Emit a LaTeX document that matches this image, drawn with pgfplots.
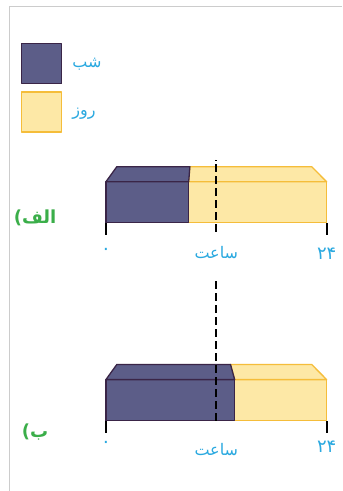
\documentclass[border=0pt]{standalone}
\usepackage{fontspec}
\usepackage{pgfplots}
\pgfplotsset{compat=1.18}
\TeXXeTstate=1
\newfontfamily\arabicfont[Script=Arabic]{DejaVu Sans}
\newcommand{\fa}[1]{{\arabicfont\beginR #1\endR}}

\definecolor{nightfill}{HTML}{5C5D88}
\definecolor{nightedge}{HTML}{3A2547}
\definecolor{dayfill}{HTML}{FDE8A6}
\definecolor{dayedge}{HTML}{F5BD3A}
\definecolor{labelblue}{HTML}{2AA9E0}
\definecolor{panelgreen}{HTML}{3AAE49}
\definecolor{framegray}{HTML}{CCCCCC}

\pgfplotsset{
  nightbox/.style={fill=nightfill, draw=nightedge, line width=1.3bp, line join=round},
  daybox/.style={fill=dayfill, draw=dayedge, line width=1.3bp, line join=round},
  noon/.style={black, line width=2.4bp, dash pattern=on 8bp off 4bp},
  panel/.style={
    scale only axis, width=221bp, xmin=0, xmax=24, ymin=0,
    clip=false, axis y line=none, axis x line*=bottom,
    x axis line style={draw=none},
    xtick={0,24}, xticklabels={\fa{۰},\fa{۲۴}},
    xtick align=outside, major tick length=12bp,
    tick style={draw=black, line width=2bp},
    xticklabel style={text=labelblue, font=\fontsize{18bp}{20bp}\selectfont},
    xlabel={\fa{ساعت}},
    xlabel style={text=labelblue, font=\fontsize{16bp}{18bp}\selectfont,
      at={(axis description cs:0.5,0)}, anchor=center},
  },
}

\begin{document}
\begin{tikzpicture}
\fill[white] (0bp,0bp) rectangle (342bp,-491bp);
\draw[framegray, line width=1bp] (10bp,-491bp) -- (10bp,-7bp) -- (342bp,-7bp);

% (الف): night 9 h, day 15 h
\begin{axis}[panel, at={(106bp,-223bp)}, anchor=south west,
  height=69.7bp, ymax=1.7,
  xlabel style={yshift=-30bp},
  xticklabel style={yshift=-10bp},
  legend style={at={(axis description cs:-0.3846,2.5825)}, anchor=north west,
    draw=none, fill=none, inner sep=0pt, row sep=7bp,
    /tikz/every odd column/.append style={column sep=8bp},
    font=\fontsize{16bp}{18bp}\selectfont, text=labelblue},
  legend cell align=left,
  legend image code/.code={\draw[#1] (0bp,-20bp) rectangle (40bp,20bp);},
]
\addlegendimage{nightbox}
\addlegendentry{\fa{شب}}
\addlegendimage{daybox}
\addlegendentry{\fa{روز}}
% day: front face and top face
\addplot[daybox, forget plot] coordinates {(9,0) (24,0) (24,1) (9,1) (9,0)};
\addplot[daybox, forget plot] coordinates {(9,1) (24,1) (22.37,1.37) (9.13,1.37) (9,1)};
% night: front face and top face
\addplot[nightbox, forget plot] coordinates {(0,0) (9,0) (9,1) (0,1) (0,0)};
\addplot[nightbox, forget plot] coordinates {(0,1) (9,1) (9.13,1.37) (1.19,1.37) (0,1)};
% noon
\addplot[noon, forget plot] coordinates {(12,-0.22) (12,1.54)};
\node[text=panelgreen, font=\bfseries\fontsize{18bp}{20bp}\selectfont] at (axis cs:-7.7,0.12) {\fa{الف)}};
\end{axis}

% (ب): night 14 h, day 10 h
\begin{axis}[panel, at={(106bp,-421bp)}, anchor=south west,
  height=147.6bp, ymax=3.6,
  xlabel style={yshift=-29bp},
  xticklabel style={yshift=-5bp},
]
\addplot[daybox] coordinates {(14,0) (24,0) (24,1) (14,1) (14,0)};
\addplot[daybox] coordinates {(14,1) (24,1) (22.37,1.37) (13.55,1.37) (14,1)};
\addplot[nightbox] coordinates {(0,0) (14,0) (14,1) (0,1) (0,0)};
\addplot[nightbox] coordinates {(0,1) (14,1) (13.55,1.37) (1.19,1.37) (0,1)};
\addplot[noon] coordinates {(12,0) (12,3.51)};
\node[text=panelgreen, font=\bfseries\fontsize{18bp}{20bp}\selectfont] at (axis cs:-7.7,-0.29) {\fa{ب)}};
\end{axis}
\end{tikzpicture}
\end{document}
